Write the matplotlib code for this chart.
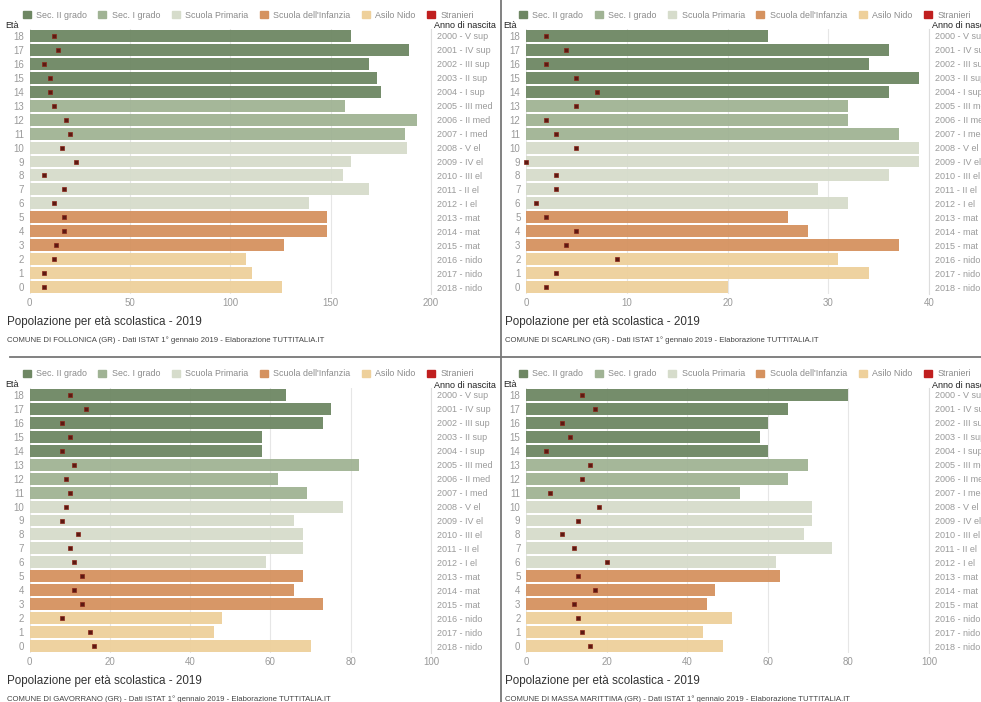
import matplotlib
matplotlib.use("Agg")
import matplotlib.pyplot as plt
from matplotlib.patches import Patch
from matplotlib.lines import Line2D

plt.rcParams['font.family'] = ['Liberation Sans', 'DejaVu Sans']

# eta' 0..18
eta = list(range(19))
anni = ['2018 - nido', '2017 - nido', '2016 - nido', '2015 - mat', '2014 - mat', '2013 - mat',
        '2012 - I el', '2011 - II el', '2010 - III el', '2009 - IV el', '2008 - V el',
        '2007 - I med', '2006 - II med', '2005 - III med',
        '2004 - I sup', '2003 - II sup', '2002 - III sup', '2001 - IV sup', '2000 - V sup']
categorie = ['Sec. II grado', 'Sec. I grado', 'Scuola Primaria', "Scuola dell'Infanzia", 'Asilo Nido']
colori_cat = ['#6e8763', '#a0b394', '#d6dccb', '#d5925f', '#eed09b']
# categoria per ogni eta' (indice in categorie)
cat_eta = [4, 4, 4, 3, 3, 3, 2, 2, 2, 2, 2, 1, 1, 1, 0, 0, 0, 0, 0]

follonica_tot = [126, 111, 108, 127, 148, 148, 139, 169, 156, 160, 188, 187, 193, 157, 175, 173, 169, 189, 160]
follonica_str = [7, 7, 12, 13, 17, 17, 12, 17, 7, 23, 16, 20, 18, 12, 10, 10, 7, 14, 12]

scarlino_tot = [20, 34, 31, 37, 28, 26, 32, 29, 36, 39, 39, 37, 32, 32, 36, 39, 34, 36, 24]
scarlino_str = [2, 3, 9, 4, 5, 2, 1, 3, 3, 0, 5, 3, 2, 5, 7, 5, 2, 4, 2]

gavorrano_tot = [70, 46, 48, 73, 66, 68, 59, 68, 68, 66, 78, 69, 62, 82, 58, 58, 73, 75, 64]
gavorrano_str = [16, 15, 8, 13, 11, 13, 11, 10, 12, 8, 9, 10, 9, 11, 8, 10, 8, 14, 10]

massa_tot = [49, 44, 51, 45, 47, 63, 62, 76, 69, 71, 71, 53, 65, 70, 60, 58, 60, 65, 80]
massa_str = [16, 14, 13, 12, 17, 13, 20, 12, 9, 13, 18, 6, 14, 16, 5, 11, 9, 17, 14]

W, H = 981, 702
fig = plt.figure(figsize=(W / 100, H / 100), dpi=100)


def fx(px):
    return px / W


def fy(py):
    return 1 - py / H


def pannello(left, top, right, bottom, tot, stran, xmax, passo, comune, x_testo):
    ax = fig.add_axes([fx(left), fy(bottom), (right - left) / W, (bottom - top) / H])
    colori = [colori_cat[c] for c in cat_eta]
    ax.grid(axis='x', color='#e6e6e6', lw=0.8, zorder=0)
    ax.barh(eta, tot, height=0.86, color=colori, alpha=0.95, zorder=2)
    ax.plot(stran, eta, 's', ms=3, color='#5c1a12', mec='#8a2418', mew=0.5,
            zorder=3, clip_on=False)
    ax.set_xlim(0, xmax)
    ax.set_ylim(-0.5, 18.5)
    ax.set_xticks(range(0, xmax + 1, passo))
    ax.set_yticks(eta)
    ax.set_yticklabels([str(e) for e in eta])
    ax.tick_params(length=0, labelsize=7, colors='#9a9a9a')
    ax.tick_params(axis='y', pad=4)
    ax.tick_params(axis='x', pad=3)
    for s in ['top', 'left', 'bottom']:
        ax.spines[s].set_visible(False)
    ax.spines['right'].set_color('#dddddd')
    ax.spines['right'].set_linewidth(0.8)

    ax2 = ax.twinx()
    ax2.set_ylim(-0.5, 18.5)
    ax2.set_yticks(eta)
    ax2.set_yticklabels(anni)
    ax2.tick_params(length=0, labelsize=6.5, colors='#9a9a9a', pad=4)
    for s in ax2.spines.values():
        s.set_visible(False)

    # legenda
    maniglie = [Patch(color=c) for c in colori_cat] + [Patch(color='#c01f1f')]
    fig.legend(maniglie, categorie + ['Stranieri'], loc='center left',
               bbox_to_anchor=(fx(left - 7), fy(top - 14)), ncol=6, frameon=False,
               fontsize=6.4, handlelength=0.9, handleheight=0.9, handletextpad=0.6,
               columnspacing=1.3, borderpad=0, borderaxespad=0, labelcolor='#8a8a8a')
    fig.text(fx(x_testo), fy(top - 4), 'Età', fontsize=6.5, color='#222222',
             va='center', ha='left')
    fig.text(fx(right + 3), fy(top - 3), 'Anno di nascita', fontsize=6.5,
             color='#222222', va='center', ha='left')
    fig.text(fx(x_testo + 2), fy(bottom + 28), 'Popolazione per età scolastica - 2019',
             fontsize=8.4, color='#333333', va='center', ha='left')
    fig.text(fx(x_testo + 2), fy(bottom + 46),
             'COMUNE DI ' + comune + ' (GR) - Dati ISTAT 1° gennaio 2019 - Elaborazione TUTTITALIA.IT',
             fontsize=5.6, color='#444444', va='center', ha='left')


pannello(29.5, 29, 431, 294, follonica_tot, follonica_str, 200, 50, 'FOLLONICA', 5)
pannello(526, 29, 929, 294, scarlino_tot, scarlino_str, 40, 10, 'SCARLINO', 503)
pannello(29.5, 388, 431, 653, gavorrano_tot, gavorrano_str, 100, 20, 'GAVORRANO', 5)
pannello(526, 388, 929, 653, massa_tot, massa_str, 100, 20, 'MASSA MARITTIMA', 503)

# linee di separazione tra i riquadri
fig.add_artist(Line2D([fx(10), 1], [fy(357), fy(357)], color='#777777', lw=1.3))
fig.add_artist(Line2D([fx(501), fx(501)], [0, 1], color='#777777', lw=1.3))

fig.savefig('out.png', dpi=100, facecolor='white')
